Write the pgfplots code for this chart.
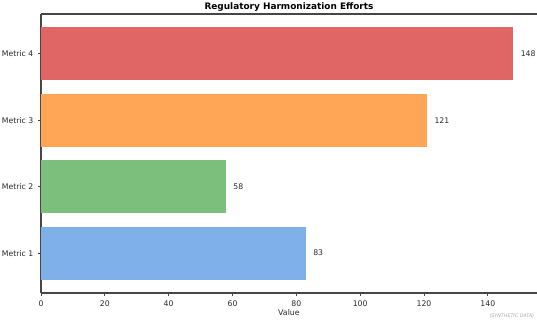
\documentclass[border=0pt]{standalone}
\usepackage{fontspec}
\setmainfont{DejaVu Sans}
\usepackage{pgfplots}
\pgfplotsset{compat=1.18}
\definecolor{cred}{RGB}{224,102,102}
\definecolor{corange}{RGB}{255,165,85}
\definecolor{cgreen}{RGB}{124,190,124}
\definecolor{cblue}{RGB}{127,176,233}
\definecolor{spine}{RGB}{70,70,70}
\definecolor{txt}{RGB}{40,40,40}
\begin{document}
\begin{tikzpicture}
\begin{axis}[
  scale only axis,
  width=372pt, height=209.25pt,
  xmin=0, xmax=155.4,
  ymin=-0.6, ymax=3.6,
  axis x line*=bottom, axis y line*=left,
  axis line style={spine, line width=0.9pt, -},
  xtick={0,20,40,60,80,100,120,140},
  ytick={0,1,2,3},
  yticklabels={Metric 1,Metric 2,Metric 3,Metric 4},
  tick align=outside,
  major tick length=2.2pt,
  tick style={spine, line width=0.6pt},
  ticklabel style={font=\fontsize{5.8}{6}\selectfont, text=txt},
  /pgf/number format/assume math mode=true,
  xlabel={Value},
  xlabel style={font=\fontsize{5.9}{6}\selectfont, text=txt, yshift=4.5pt},
  title={\bfseries Regulatory Harmonization Efforts},
  title style={font=\fontsize{6.7}{7}\selectfont, yshift=-7.5pt},
  xbar, bar width=0.8, bar shift=0pt,
  nodes near coords,
  nodes near coords style={font=\fontsize{5.8}{6}\selectfont, text=txt, anchor=west, xshift=2pt},
  clip=false,
]
\addplot[draw=none, fill=cblue] coordinates {(83,0)};
\addplot[draw=none, fill=cgreen] coordinates {(58,1)};
\addplot[draw=none, fill=corange] coordinates {(121,2)};
\addplot[draw=none, fill=cred] coordinates {(148,3)};
\draw[spine, line width=0.9pt] (rel axis cs:0,1) -- (rel axis cs:1,1);
\end{axis}
\node[anchor=south east, font=\itshape\fontsize{3.6}{4}\selectfont, text=gray!70, inner sep=0pt] at (370pt,-19pt) {(SYNTHETIC DATA)};
\pgfresetboundingbox
\path[use as bounding box] (-30.75pt,-20.25pt) rectangle (372pt,219.75pt);
\end{tikzpicture}
\end{document}
